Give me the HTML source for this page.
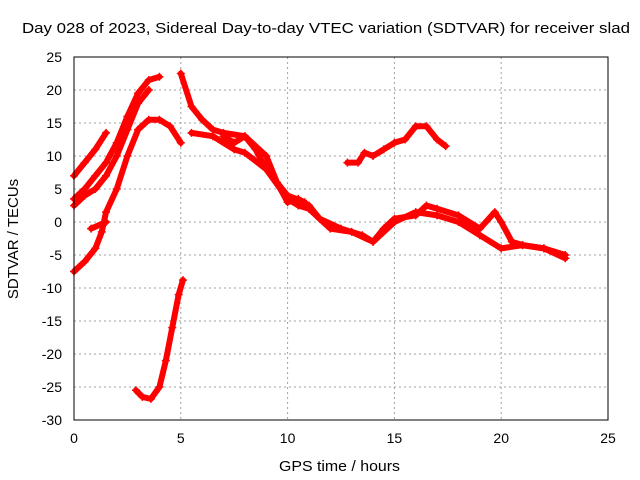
<!DOCTYPE html>
<html><head><meta charset="utf-8"><style>
body{margin:0;background:#fff}
svg{display:block;font-family:"Liberation Sans",sans-serif}
</style></head><body>
<svg id="chart" width="640" height="480">
<text x="22" y="33" font-size="15" textLength="608" lengthAdjust="spacingAndGlyphs">Day 028 of 2023, Sidereal Day-to-day VTEC variation (SDTVAR) for receiver slad</text>
<text x="279" y="471" font-size="15" textLength="121" lengthAdjust="spacingAndGlyphs">GPS time / hours</text>
<text transform="translate(18,239) rotate(-90)" text-anchor="middle" font-size="15">SDTVAR / TECUs</text>
<g id="grid"></g><g id="series"></g>
<rect x="74" y="57" width="534" height="363" fill="none" stroke="#000"/>
</svg>
<script>
const xTicks=[0,5,10,15,20,25];
const yTicks=[25,20,15,10,5,0,-5,-10,-15,-20,-25,-30];
const track1=[[0,7],[0.5,9],[1,11],[1.5,13.5]];
const track2=[[0,3.5],[0.5,5],[1,7],[1.5,9],[2,12],[2.5,16],[3,19.5],[3.5,21.5],[4,22]];
const track3=[[0,2.5],[0.5,4],[1,5],[1.5,7],[2,10],[2.5,14],[3,18],[3.5,20]];
const track4=[[0,-7.5],[0.5,-6],[1,-4],[1.3,-1.5],[1.5,1.5],[2,5],[2.5,10],[3,14],[3.5,15.5],[4,15.5],[4.5,14.5],[5,12]];
const track4b=[[0.8,-1],[1.5,0]];
const track5=[[2.9,-25.5],[3.2,-26.5],[3.6,-26.8],[4,-25],[4.3,-21],[4.6,-16],[4.9,-11],[5.1,-8.8]];
const track6=[[5,22.5],[5.5,17.5],[6,15.5],[6.5,14],[7,13.5],[8,13],[8.5,11],[9,8],[10,3.5],[10.5,2.5],[11,2],[12,-1],[13,-1.5],[14,-3],[15,0],[16,1.5],[17,1],[18,0],[19,-2],[20,-4],[21,-3.5],[22,-4],[23,-5.5]];
const track7=[[5.5,13.5],[6.5,13],[7.5,11],[8,10.5],[9,8],[10,4],[10.8,3]];
const track8=[[7,13],[7.5,12],[8,13],[9,10],[9.5,6],[10,3],[10.5,3.5],[11,2.5],[11.5,0.5],[12.5,-1],[13.5,-2],[14,-3],[14.5,-1],[15,0.5],[16,1],[16.5,2.5],[17,2],[18,1],[19,-1],[19.7,1.5],[20,0],[20.5,-3],[21,-3.5],[22,-4],[23,-5]];
const track9=[[12.8,9],[13.3,9],[13.6,10.5],[14,10],[14.5,11],[15,12],[15.5,12.5],[16,14.5],[16.5,14.5],[17,12.5],[17.4,11.5]];
const tracks=[track1,track2,track3,track4,track4b,track5,track6,track7,track8,track9];
const X=v=>74+v*534/25, Y=v=>57+(25-v)*363/55;
const NS="http://www.w3.org/2000/svg";
const g=document.getElementById('grid'), s=document.getElementById('series');
function mk(t,a,p){const e=document.createElementNS(NS,t);for(const k in a)e.setAttribute(k,a[k]);p.appendChild(e);return e;}
xTicks.forEach(v=>{
 const l=mk('line',{x1:X(v),x2:X(v),y1:57,y2:420,stroke:'#a0a0a0','stroke-dasharray':'2,3'},g);
 
 
 const t=mk('text',{x:X(v),y:443,'text-anchor':'middle','font-size':14},g);t.textContent=v;
 
 
});
yTicks.forEach(v=>{
 const l=mk('line',{x1:74,x2:608,y1:Y(v),y2:Y(v),stroke:'#a0a0a0','stroke-dasharray':'2,3'},g);
 
 
 const t=mk('text',{x:62,y:Y(v)+5,'text-anchor':'end','font-size':14},g);t.textContent=v;
 
 
});
tracks.forEach(tr=>{
 const p=mk('polyline',{points:tr.map(d=>X(d[0])+','+Y(d[1])).join(' '),fill:'none',stroke:'#f00','stroke-width':6,'stroke-linejoin':'round','stroke-linecap':'round'},s);
 
 
 tr.forEach(d=>{
  const m=mk('path',{d:`M${X(d[0])-4},${Y(d[1])}h8M${X(d[0])},${Y(d[1])-4}v8`,stroke:'#f00','stroke-width':1.5},s);
  
  
 });
});
</script>
</body></html>
